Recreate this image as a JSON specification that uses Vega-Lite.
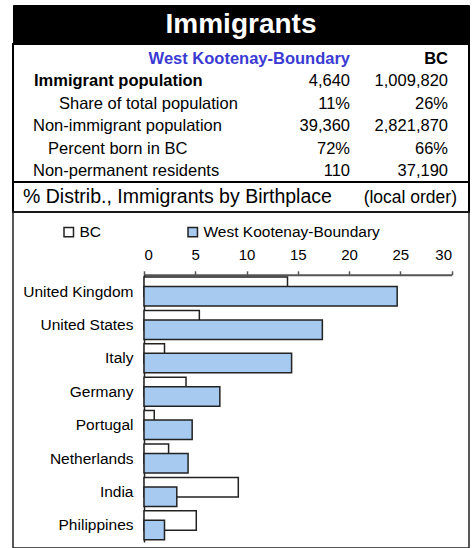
{
  "$schema": "https://vega.github.io/schema/vega-lite/v6.json",
  "padding": {"left": 12, "top": 4, "right": 6, "bottom": 1},
  "autosize": {"type": "pad"},
  "background": "white",
  "spacing": 0,
  "bounds": "flush",
  "config": {"font": "Liberation Sans", "view": {"stroke": null}},
  "resolve": {"scale": {"x": "independent", "y": "independent", "color": "independent"}},
  "datasets": {
    "title": [{"text": "Immigrants"}],
    "header": [
      {"row": 0, "column": "WKB", "text": "West Kootenay-Boundary"},
      {"row": 0, "column": "BC", "text": "BC"}
    ],
    "table": [
      {"row": 1, "label": "Immigrant population", "level": "head", "wkb": "4,640", "bc": "1,009,820"},
      {"row": 2, "label": "Share of total population", "level": "sub", "wkb": "11%", "bc": "26%"},
      {"row": 3, "label": "Non-immigrant population", "level": "top", "wkb": "39,360", "bc": "2,821,870"},
      {"row": 4, "label": "Percent born in BC", "level": "subsub", "wkb": "72%", "bc": "66%"},
      {"row": 5, "label": "Non-permanent residents", "level": "top", "wkb": "110", "bc": "37,190"}
    ],
    "subtitle": [
      {"part": "main", "text": "% Distrib., Immigrants by Birthplace"},
      {"part": "note", "text": "(local order)"}
    ],
    "birthplace": [
      {"birthplace": "United Kingdom", "area": "BC", "share": 14.0},
      {"birthplace": "United Kingdom", "area": "West Kootenay-Boundary", "share": 24.7},
      {"birthplace": "United States", "area": "BC", "share": 5.4},
      {"birthplace": "United States", "area": "West Kootenay-Boundary", "share": 17.4},
      {"birthplace": "Italy", "area": "BC", "share": 2.0},
      {"birthplace": "Italy", "area": "West Kootenay-Boundary", "share": 14.4},
      {"birthplace": "Germany", "area": "BC", "share": 4.1},
      {"birthplace": "Germany", "area": "West Kootenay-Boundary", "share": 7.4},
      {"birthplace": "Portugal", "area": "BC", "share": 1.0},
      {"birthplace": "Portugal", "area": "West Kootenay-Boundary", "share": 4.7},
      {"birthplace": "Netherlands", "area": "BC", "share": 2.4},
      {"birthplace": "Netherlands", "area": "West Kootenay-Boundary", "share": 4.3},
      {"birthplace": "India", "area": "BC", "share": 9.2},
      {"birthplace": "India", "area": "West Kootenay-Boundary", "share": 3.2},
      {"birthplace": "Philippines", "area": "BC", "share": 5.1},
      {"birthplace": "Philippines", "area": "West Kootenay-Boundary", "share": 2.0}
    ]
  },
  "vconcat": [
    {
      "width": 456,
      "height": 39,
      "view": {"fill": "black", "stroke": "black"},
      "data": {"name": "title"},
      "mark": {"type": "text", "fontSize": 28, "fontWeight": "bold", "color": "white", "align": "center", "baseline": "middle"},
      "encoding": {"text": {"field": "text"}}
    },
    {
      "width": 456,
      "height": 138,
      "view": {"stroke": "black", "strokeWidth": 2},
      "encoding": {
        "y": {"field": "row", "type": "ordinal", "scale": {"type": "point", "domain": [0, 1, 2, 3, 4, 5], "range": [15, 127], "padding": 0}, "axis": null}
      },
      "layer": [
        {
          "data": {"name": "header"},
          "mark": {"type": "text", "fontSize": 16.5, "fontWeight": "bold", "align": "right", "baseline": "middle"},
          "encoding": {
            "x": {"field": "column", "type": "nominal", "scale": {"type": "point", "domain": ["label", "WKB", "BC"], "range": [239, 435], "padding": 0}, "axis": null},
            "text": {"field": "text"},
            "color": {"condition": {"test": "datum.column === 'WKB'", "value": "#3b3bd3"}, "value": "black"}
          }
        },
        {
          "data": {"name": "table"},
          "transform": [{"filter": "datum.level === 'head'"}],
          "mark": {"type": "text", "fontSize": 16.5, "fontWeight": "bold", "align": "left", "baseline": "middle", "dx": -218, "color": "black"},
          "encoding": {"x": {"datum": "label", "type": "nominal"}, "text": {"field": "label"}}
        },
        {
          "data": {"name": "table"},
          "transform": [{"filter": "datum.level === 'top'"}],
          "mark": {"type": "text", "fontSize": 16.5, "align": "left", "baseline": "middle", "dx": -219, "color": "black"},
          "encoding": {"x": {"datum": "label", "type": "nominal"}, "text": {"field": "label"}}
        },
        {
          "data": {"name": "table"},
          "transform": [{"filter": "datum.level === 'sub'"}],
          "mark": {"type": "text", "fontSize": 16.5, "align": "left", "baseline": "middle", "dx": -193, "color": "black"},
          "encoding": {"x": {"datum": "label", "type": "nominal"}, "text": {"field": "label"}}
        },
        {
          "data": {"name": "table"},
          "transform": [{"filter": "datum.level === 'subsub'"}],
          "mark": {"type": "text", "fontSize": 16.5, "align": "left", "baseline": "middle", "dx": -204, "color": "black"},
          "encoding": {"x": {"datum": "label", "type": "nominal"}, "text": {"field": "label"}}
        },
        {
          "data": {"name": "table"},
          "mark": {"type": "text", "fontSize": 16.5, "align": "right", "baseline": "middle", "color": "black"},
          "encoding": {"x": {"datum": "WKB", "type": "nominal"}, "text": {"field": "wkb"}}
        },
        {
          "data": {"name": "table"},
          "mark": {"type": "text", "fontSize": 16.5, "align": "right", "baseline": "middle", "color": "black"},
          "encoding": {"x": {"datum": "BC", "type": "nominal"}, "text": {"field": "bc"}}
        }
      ]
    },
    {
      "width": 456,
      "height": 30,
      "view": {"stroke": "black", "strokeWidth": 2},
      "data": {"name": "subtitle"},
      "encoding": {
        "x": {"field": "part", "type": "nominal", "scale": {"type": "point", "domain": ["main", "note"], "range": [10, 444], "padding": 0}, "axis": null},
        "text": {"field": "text"}
      },
      "layer": [
        {
          "transform": [{"filter": "datum.part === 'main'"}],
          "mark": {"type": "text", "fontSize": 19.5, "align": "left", "baseline": "middle", "color": "black"}
        },
        {
          "transform": [{"filter": "datum.part === 'note'"}],
          "mark": {"type": "text", "fontSize": 17.5, "align": "right", "baseline": "middle", "dy": 1, "color": "black"}
        }
      ]
    },
    {
      "width": 456,
      "height": 336,
      "view": {"stroke": "#222", "strokeWidth": 1.5},
      "data": {"name": "birthplace"},
      "encoding": {
        "x": {
          "field": "share", "type": "quantitative",
          "scale": {"domain": [0, 30], "range": [131, 438.5], "nice": false, "zero": true},
          "axis": {"orient": "top", "offset": -62.8, "values": [0, 5, 10, 15, 20, 25, 30], "grid": false, "tickSize": 4, "labelPadding": 8, "domainColor": "#555", "domainWidth": 2, "tickColor": "#555", "tickWidth": 1.5, "labelFontSize": 15, "labelColor": "black", "title": null}
        },
        "y": {
          "field": "birthplace", "type": "nominal", "sort": null,
          "scale": {"range": [62.8, 330], "paddingInner": 0.13, "paddingOuter": 0.065},
          "axis": {"orient": "left", "offset": -131, "ticks": false, "domainColor": "#222", "domainWidth": 1.5, "labelPadding": 11, "labelFontSize": 15.5, "labelColor": "black", "title": null}
        },
        "color": {
          "field": "area", "type": "nominal",
          "scale": {"domain": ["BC", "West Kootenay-Boundary"], "range": ["white", "#a6caf0"]},
          "legend": {"orient": "none", "legendX": 48, "legendY": 12, "direction": "horizontal", "title": null, "symbolType": "square", "symbolSize": 90, "symbolStrokeColor": "#222", "symbolStrokeWidth": 1.5, "labelFontSize": 15.5, "labelColor": "black", "labelOffset": 3, "labelLimit": 400, "columnPadding": 83}
        }
      },
      "layer": [
        {
          "transform": [{"filter": "datum.area === 'BC'"}],
          "mark": {"type": "bar", "height": 19.5, "yOffset": -4.75, "stroke": "#222", "strokeWidth": 1.5}
        },
        {
          "transform": [{"filter": "datum.area !== 'BC'"}],
          "mark": {"type": "bar", "height": 19.5, "yOffset": 4.75, "stroke": "#222", "strokeWidth": 1.5}
        }
      ]
    }
  ]
}
